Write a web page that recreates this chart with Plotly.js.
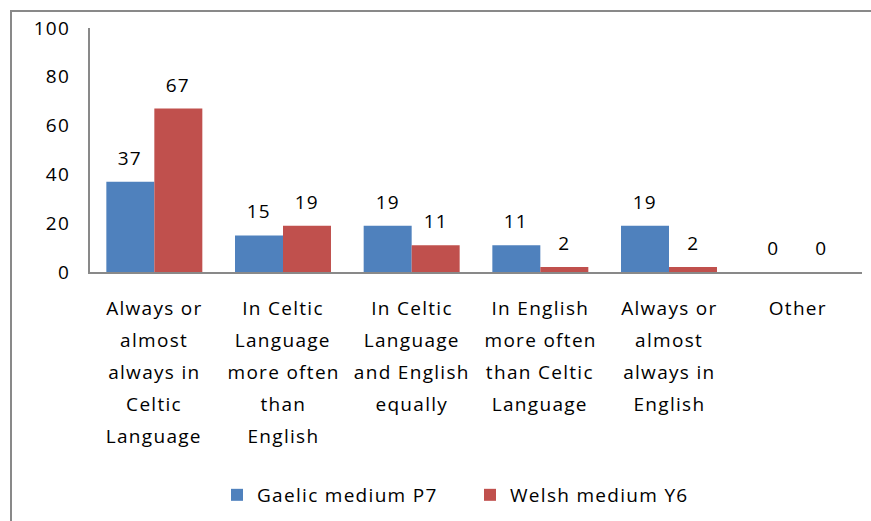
<!DOCTYPE html>
<html>
<head>
<meta charset="utf-8">
<script src="https://cdn.plot.ly/plotly-3.0.1.min.js"></script>
<style>
  html, body { margin: 0; padding: 0; overflow: hidden; background: #fff; }
  #chart { position: absolute; left: 0; top: 0; width: 871px; height: 521px; }
  #frame { position: absolute; left: 10px; top: 10px; width: 1000px; height: 1000px;
           border: 2px solid #898989; pointer-events: none; z-index: 10; }
  #chart text { letter-spacing: 1.3px; }
</style>
</head>
<body>
<div id="chart"></div>
<div id="frame"></div>
<script>
// ---- data ----
const categories = [
  "Always or almost always in Celtic Language",
  "In Celtic Language more often than English",
  "In Celtic Language and English equally",
  "In English more often than Celtic Language",
  "Always or almost always in English",
  "Other"
];
const categoryLines = [
  ["Always or", "almost", "always in", "Celtic", "Language"],
  ["In Celtic", "Language", "more often", "than", "English"],
  ["In Celtic", "Language", "and English", "equally"],
  ["In English", "more often", "than Celtic", "Language"],
  ["Always or", "almost", "always in", "English"],
  ["Other"]
];
const seriesNames = ["Gaelic medium P7", "Welsh medium Y6"];
const gaelicP7 = [37, 15, 19, 11, 19, 0];
const welshY6 = [67, 19, 11, 2, 2, 0];
const yTicks = [0, 20, 40, 60, 80, 100];

// ---- styling ----
const FONT = "'Open Sans', sans-serif";
const FS = 19;
const colors = ["#4F81BD", "#C0504D"];
const allSeries = [gaelicP7, welshY6];

const traces = allSeries.map((vals, i) => ({
  type: "bar",
  name: seriesNames[i],
  x: categories,
  y: vals,
  marker: { color: colors[i], line: { width: 0 } },
  hoverinfo: "skip"
}));

const annotations = [];
// data labels
allSeries.forEach((vals, i) => {
  vals.forEach((v, k) => {
    annotations.push({
      x: categories[k], y: v, xref: "x", yref: "y",
      text: String(v), showarrow: false,
      xanchor: "center", yanchor: "middle",
      xshift: i === 0 ? -24 : 24, yshift: 24,
      font: { family: FONT, size: FS, color: "#000" }
    });
  });
});
// category labels (multi-line, Excel-like spacing)
categoryLines.forEach((lines, k) => {
  lines.forEach((t, j) => {
    annotations.push({
      x: categories[k], y: 0, xref: "x", yref: "y",
      text: t, showarrow: false,
      xanchor: "center", yanchor: "middle",
      yshift: -(36 + 32 * j),
      font: { family: FONT, size: FS, color: "#000" }
    });
  });
});

const layout = {
  width: 871, height: 521,
  margin: { l: 90, r: 9, t: 28, b: 248, pad: 0 },
  paper_bgcolor: "#fff", plot_bgcolor: "#fff",
  font: { family: FONT, size: FS, color: "#000" },
  barmode: "group",
  bargap: 0.254, bargroupgap: 0,
  showlegend: true,
  legend: {
    orientation: "h", x: 0.1645, xanchor: "left", y: -0.906, yanchor: "middle",
    entrywidth: 208, entrywidthmode: "pixels",
    font: { family: FONT, size: FS, color: "#000" },
    bgcolor: "rgba(0,0,0,0)", traceorder: "normal"
  },
  xaxis: {
    type: "category", range: [-0.5, 5.5],
    showticklabels: false, ticks: "",
    showline: true, linecolor: "#898989", linewidth: 2,
    showgrid: false, zeroline: false, fixedrange: true
  },
  yaxis: {
    range: [0, 100], tickvals: yTicks, ticktext: yTicks.map(String),
    ticks: "", ticklabelstandoff: 14,
    showline: true, linecolor: "#898989", linewidth: 2,
    showgrid: false, zeroline: false, fixedrange: true,
    tickfont: { family: FONT, size: FS, color: "#000" }
  },
  annotations: annotations
};

Plotly.newPlot("chart", traces, layout, { displayModeBar: false, staticPlot: true });
</script>
</body>
</html>
